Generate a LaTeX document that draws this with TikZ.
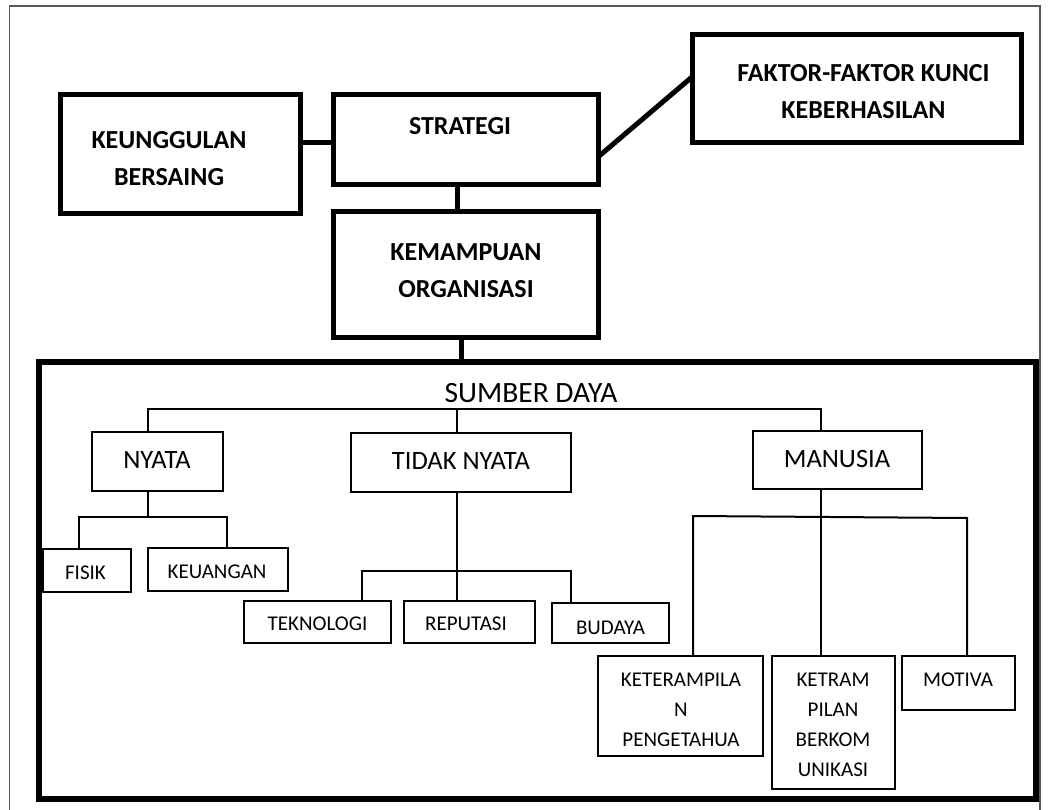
\documentclass[tikz,border=0pt]{standalone}
\usepackage{fontspec}
\setmainfont{Carlito}
\begin{document}
\begin{tikzpicture}[x=1pt,y=-1pt,
  bigbox/.style={draw=black,line width=5pt,rectangle,inner sep=0pt,outer sep=0pt},
  smallbox/.style={draw=black,line width=1.5pt,rectangle,inner sep=0pt,outer sep=0pt},
  thickline/.style={line width=5pt},
  treeline/.style={line width=2pt},
  boldtxt/.style={font=\fontsize{26}{37}\selectfont\bfseries,align=center,inner sep=0pt},
  midtxt/.style={font=\fontsize{26.5}{30}\selectfont,align=center,inner sep=0pt},
  smalltxt/.style={font=\fontsize{21}{30}\selectfont,align=center,inner sep=0pt}]
\useasboundingbox (0,0) rectangle (1051,810);
% outer frame
\draw[black!65,line width=1.5pt] (9.5,6) rectangle (1040,830);

% top boxes
\node[bigbox,minimum width=240pt,minimum height=119pt] (keu) at (180,154.5) {};
\node[bigbox,minimum width=265pt,minimum height=90pt] (strat) at (465.5,140) {};
\node[bigbox,minimum width=265pt,minimum height=125pt] (kem) at (465.5,274.5) {};
\node[bigbox,minimum width=329pt,minimum height=108pt] (fak) at (856.5,89) {};
\node[draw=black,line width=6pt,rectangle,inner sep=0pt,minimum width=997.5pt,minimum height=437pt] (big) at (537.25,580.5) {};

\node[boldtxt] (tkeu) at (169,158.5) {KEUNGGULAN\\BERSAING};
\node[boldtxt] (tstrat) at (460,126) {STRATEGI};
\node[boldtxt] (tkem) at (466,271) {KEMAMPUAN\\ORGANISASI};
\node[boldtxt] (tfak) at (863.5,92) {FAKTOR-FAKTOR KUNCI\\KEBERHASILAN};

\coordinate (ks) at (316,143);
\coordinate (sk) at (457,200);
\coordinate (kb) at (461,350);
\coordinate (sfa) at (0,157);
\coordinate (sfb) at (0,77);
\draw[thickline] (keu.east |- ks) -- (strat.west |- ks);
\draw[thickline] (strat.south -| sk) -- (kem.north -| sk);
\draw[thickline] (kem.south -| kb) -- (big.north -| kb);
\draw[thickline] (strat.east |- sfa) -- (fak.west |- sfb);

% resources tree
\node[font=\fontsize{29.5}{30}\selectfont,inner sep=0pt] (sd) at (531,393) {SUMBER DAYA};

\node[smallbox,minimum width=131pt,minimum height=59pt] (nyata) at (157.5,461.5) {};
\node[smallbox,minimum width=220pt,minimum height=59pt] (tidak) at (461,462.5) {};
\node[smallbox,minimum width=169pt,minimum height=58pt] (manusia) at (837.5,460) {};
\node[midtxt] (tnyata) at (157,460) {NYATA};
\node[midtxt] (ttidak) at (461,461) {TIDAK NYATA};
\node[midtxt] (tmanusia) at (837,459) {MANUSIA};

\node[smallbox,minimum width=88pt,minimum height=43pt] (fisik) at (87,570.5) {};
\node[smallbox,minimum width=140pt,minimum height=43pt] (keuangan) at (218,569.5) {};
\node[smallbox,minimum width=147pt,minimum height=42pt] (tekno) at (317.5,622) {};
\node[smallbox,minimum width=131pt,minimum height=42pt] (reput) at (469.5,622) {};
\node[smallbox,minimum width=117pt,minimum height=40pt] (budaya) at (610.5,623) {};
\node[smallbox,minimum width=165pt,minimum height=100pt] (ketr) at (680.5,706) {};
\node[smallbox,minimum width=123pt,minimum height=133pt] (ketram) at (833.5,722.5) {};
\node[smallbox,minimum width=113pt,minimum height=54pt] (motiva) at (958.5,683) {};

\node[smalltxt] (tfisik) at (85.5,573) {FISIK};
\node[smalltxt] (tkeuangan) at (217,572) {KEUANGAN};
\node[smalltxt] (ttekno) at (317.5,624) {TEKNOLOGI};
\node[smalltxt] (treput) at (466,624) {REPUTASI};
\node[smalltxt] (tbudaya) at (610.5,628) {BUDAYA};
\begin{scope}
  \clip (598,656) rectangle (763,745);
  \node[smalltxt] (tketr) at (681,710) {KETERAMPILA\\N\\PENGETAHUA};
\end{scope}
\node[smalltxt] (tketram) at (833,725) {KETRAM\\PILAN\\BERKOM\\UNIKASI};
\node[smalltxt] (tmotiva) at (958,680) {MOTIVA};

\coordinate (sdL) at (148,409);
\coordinate (sdM) at (457,409);
\coordinate (sdR) at (821,409);
\draw[treeline] (nyata.north -| sdL) -- (sdL) -- (sdR) -- (manusia.north -| sdR);
\draw[treeline] (sdM) -- (tidak.north -| sdM);

\coordinate (ny) at (148,517);
\coordinate (nyL) at (79,517);
\coordinate (nyR) at (227,517);
\draw[treeline] (nyata.south -| ny) -- (ny);
\draw[treeline] (fisik.north -| nyL) -- (nyL) -- (nyR) -- (keuangan.north -| nyR);

\coordinate (tn) at (457,571);
\coordinate (tnL) at (362,571);
\coordinate (tnR) at (571,571);
\draw[treeline] (tidak.south -| tn) -- (reput.north -| tn);
\draw[treeline] (tekno.north -| tnL) -- (tnL) -- (tnR) -- (budaya.north -| tnR);

\coordinate (mn) at (821,517);
\coordinate (mnL) at (693,516);
\coordinate (mnR) at (967,518);
\draw[treeline] (manusia.south -| mn) -- (ketram.north -| mn);
\draw[treeline] (ketr.north -| mnL) -- (mnL) -- (mnR) -- (motiva.north -| mnR);
\end{tikzpicture}
\end{document}
